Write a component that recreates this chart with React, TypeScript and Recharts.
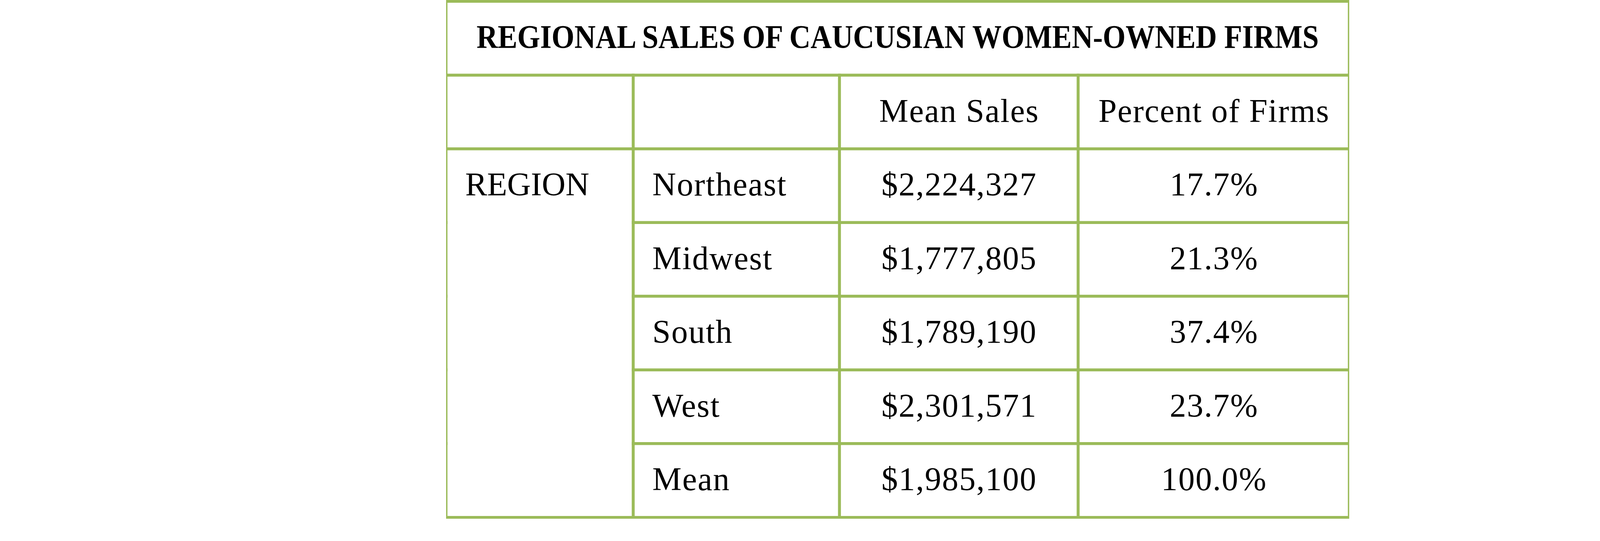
import React from 'react';
import { BarChart, Bar, XAxis, YAxis } from 'recharts';

// ---- content ----
const TITLE = 'REGIONAL SALES OF CAUCUSIAN WOMEN-OWNED FIRMS';
const headerLabels = ['', '', 'Mean Sales', 'Percent of Firms'];
const groupLabel = 'REGION';
const regions = ['Northeast', 'Midwest', 'South', 'West', 'Mean'];
const meanSales = [2224327, 1777805, 1789190, 2301571, 1985100];
const percentOfFirms = [17.7, 21.3, 37.4, 23.7, 100.0];

// ---- layout / style constants ----
const COL_WEIGHTS = [479, 528, 611, 694];
const TOTAL = COL_WEIGHTS.reduce((a, b) => a + b, 0);
const GREEN = '#9BBB59';
const LINE_W = 7;
const FONT = "'Liberation Serif', 'Times New Roman', serif";
const FONT_SIZE = 84;
const PAD_LEFT = 49;
const BASELINE_OFFSET = 25;
const TITLE_WIDTH = 2156;

const fmtMoney = (n: number) => '$' + String(n).replace(/\B(?=(\d{3})+(?!\d))/g, ',');
const fmtPct = (n: number) => n.toFixed(1) + '%';

const colKeys = ['c1', 'c2', 'c3', 'c4'];

const tableRows = [
  { row: 'title', kind: 'title', idx: -1, span: TOTAL, c1: 0, c2: 0, c3: 0, c4: 0, texts: [TITLE] },
  {
    row: 'header', kind: 'header', idx: -1, span: 0,
    c1: COL_WEIGHTS[0], c2: COL_WEIGHTS[1], c3: COL_WEIGHTS[2], c4: COL_WEIGHTS[3],
    texts: headerLabels,
  },
  ...regions.map((r, i) => ({
    row: r, kind: 'data', idx: i, span: 0,
    c1: COL_WEIGHTS[0], c2: COL_WEIGHTS[1], c3: COL_WEIGHTS[2], c4: COL_WEIGHTS[3],
    texts: [i === 0 ? groupLabel : '', r, fmtMoney(meanSales[i]), fmtPct(percentOfFirms[i])],
  })),
];

const lineProps = { stroke: GREEN, strokeWidth: LINE_W, strokeLinecap: 'square' as const };

const makeShape = (col: number) => (props: any) => {
  const { x, y, width, height, payload } = props;
  if (!width || width <= 0 || !payload) return <g />;
  const kind = payload.kind;
  const texts: string[] = payload.texts || [];
  const cy = y + height / 2 + BASELINE_OFFSET;

  // title spanning cell
  if (col === -1) {
    return (
      <g>
        <rect x={x} y={y} width={width} height={height} fill="none" stroke={GREEN} strokeWidth={LINE_W} />
        <text
          x={x + width / 2}
          y={cy}
          textAnchor="middle"
          fontFamily={FONT}
          fontSize={FONT_SIZE}
          fontWeight="bold"
          fill="#000"
          textLength={TITLE_WIDTH}
          lengthAdjust="spacingAndGlyphs"
        >
          {texts[0]}
        </text>
      </g>
    );
  }

  const label = texts[col] || '';
  let border;
  if (kind === 'data' && col === 0) {
    const idx = payload.idx;
    border = (
      <g>
        <line x1={x} y1={y} x2={x} y2={y + height} {...lineProps} />
        <line x1={x + width} y1={y} x2={x + width} y2={y + height} {...lineProps} />
        {idx === 0 && <line x1={x} y1={y} x2={x + width} y2={y} {...lineProps} />}
        {idx === regions.length - 1 && (
          <line x1={x} y1={y + height} x2={x + width} y2={y + height} {...lineProps} />
        )}
      </g>
    );
  } else {
    border = <rect x={x} y={y} width={width} height={height} fill="none" stroke={GREEN} strokeWidth={LINE_W} />;
  }

  const leftAligned = col < 2;
  const allCaps = label === label.toUpperCase() && /[A-Z]/.test(label);
  const spacing = allCaps ? 0 : 2;
  return (
    <g>
      {border}
      {label && (
        <text
          x={leftAligned ? x + PAD_LEFT : x + width / 2 + spacing / 2}
          y={cy}
          textAnchor={leftAligned ? 'start' : 'middle'}
          fontFamily={FONT}
          fontSize={FONT_SIZE}
          letterSpacing={spacing}
          fill="#000"
        >
          {label}
        </text>
      )}
    </g>
  );
};

export default function App() {
  return (
    <div style={{ position: 'absolute', left: 0, top: 0, width: 4603, height: 1384, background: '#fff' }}>
      <BarChart
        width={4603}
        height={1384}
        data={tableRows}
        layout="vertical"
        margin={{ top: 3.5, right: 1149, bottom: 61, left: 1142 }}
        barCategoryGap={0}
        barGap={0}
      >
        <XAxis type="number" hide domain={[0, TOTAL]} allowDataOverflow />
        <YAxis type="category" dataKey="row" hide />
        <Bar dataKey="span" stackId="t" isAnimationActive={false} shape={makeShape(-1)} />
        {colKeys.map((k, i) => (
          <Bar key={k} dataKey={k} stackId="t" isAnimationActive={false} shape={makeShape(i)} />
        ))}
      </BarChart>
    </div>
  );
}
